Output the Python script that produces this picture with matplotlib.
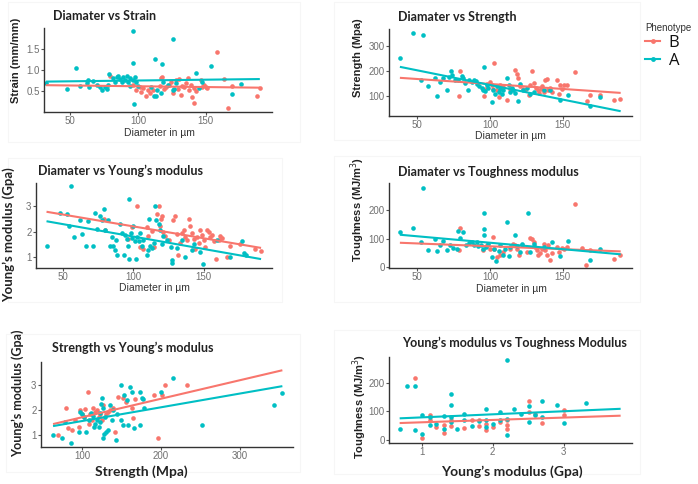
import numpy as np
import matplotlib
matplotlib.use("Agg")
import matplotlib.pyplot as plt
from matplotlib.lines import Line2D
from matplotlib.patches import Rectangle

# ---------------- data ----------------
phenotypes = ["B", "A"]

# Panel 1: Diameter vs Strain
p1_B_x = [79.3, 96.3, 98.8, 101.2, 102.4, 103.7, 106.1, 107.3, 108.5, 110.9, 115.9, 116.6, 117.8, 119.5, 120.7,
          123.2, 124.4, 125.6, 128, 129.3, 130.5, 131.7, 132.4, 134.1, 135.4, 136.6, 137.8, 139, 140.2, 141,
          141.5, 142.7, 146.3, 147.6, 148.8, 150, 151.2, 158.5, 163.4, 166.6, 169.5, 187.8, 190]
p1_B_y = [0.87, 0.64, 0.52, 0.60, 0.48, 0.57, 0.40, 0.52, 0.47, 0.54, 0.62, 0.81, 0.85, 0.55, 0.60,
          0.66, 0.73, 0.46, 0.77, 0.55, 0.79, 0.42, 0.63, 0.60, 0.70, 0.81, 0.54, 0.66, 0.36, 0.23,
          0.58, 0.50, 0.77, 0.60, 0.66, 0.60, 0.58, 1.44, 0.79, 0.10, 0.63, 0.38, 0.57]
p1_A_x = [32, 47.6, 54.4, 56.8, 62.2, 62.7, 63.4, 67, 69.5, 71.9, 73.2, 75.6, 77.3, 78, 78.8, 81.7, 82.9,
          84.1, 85.4, 86.6, 87.8, 89, 90.2, 91.5, 92.7, 93.9, 94.4, 96.3, 96.3, 96.3, 97.6, 98.8, 97,
          100, 109.8, 111.5, 112.2, 113.4, 113.9, 117.1, 117.6, 118.3, 122, 125.6, 125.6, 126.8, 128,
          142.7, 145.1, 147.6, 153.7, 169.5, 176.1]
p1_A_y = [0.70, 0.55, 1.05, 0.63, 0.70, 0.77, 0.60, 0.74, 0.66, 0.60, 0.52, 0.60, 0.55, 0.66, 0.91, 0.81, 0.73,
          0.85, 0.87, 0.79, 0.71, 0.84, 0.77, 0.87, 0.73, 0.62, 0.81, 0.77, 1.92, 1.18, 0.84, 0.73, 0.21,
          0.62, 0.60, 0.40, 1.26, 0.38, 0.54, 0.46, 1.14, 0.71, 0.66, 1.75, 0.54, 0.55, 0.70,
          0.93, 0.58, 0.71, 1.10, 0.44, 0.68]

# Panel 2: Diameter vs Strength
p2_B_x = [79.4, 78.7, 96, 96.7, 97.8, 100.1, 101.3, 102.4, 103.1, 104.7, 105.9, 107, 109.3, 111.6, 114,
          117.4, 118.5, 119.2, 120.8, 122.6, 124.3, 126.6, 127.7, 128.9, 130.5, 131.9, 132.8, 134.1, 135,
          135.7, 136.9, 138, 139.2, 140.3, 141.5, 142.6, 146.1, 147.2, 148.4, 149.5, 150.7, 153, 158.7,
          166.8, 169.1, 176, 185.2, 189.8]
p2_B_y = [201, 99, 100, 130, 150, 156, 143, 130, 233, 123, 96, 143, 136, 83, 130,
          203, 190, 174, 139, 130, 123, 103, 143, 201, 152, 134, 123, 112, 130,
          139, 116, 163, 170, 125, 134, 116, 163, 109, 143, 130, 143, 143, 197,
          79, 103, 103, 83, 87]
p2_A_x = [38, 47.2, 54.1, 52.3, 57.1, 62.2, 63.3, 65.6, 67.9, 70.2, 72, 72.9, 73.7, 76, 78.3, 80.6, 81.7,
          82.9, 85.2, 85.9, 87.5, 89.1, 90.5, 91.4, 92.5, 94.4, 95.5, 96.2, 96.7, 97.8, 99, 101.3, 102.4,
          103.6, 104.7, 105.9, 107, 108.2, 109.3, 111.6, 112.8, 114, 115.1, 116.2, 117.4, 119.2, 120.8,
          123.1, 125.4, 127.7, 130, 136.9, 141.5, 148.4, 153.4, 169.1, 176]
p2_A_y = [253, 354, 344, 163, 140, 174, 99, 156, 174, 123, 177, 201, 183, 163, 166, 179, 174,
          152, 125, 163, 156, 166, 160, 150, 139, 134, 125, 217, 120, 143, 134, 76, 125,
          109, 139, 116, 130, 109, 123, 174, 143, 116, 134, 125, 112, 79, 150,
          123, 134, 107, 116, 123, 125, 85, 103, 62, 96]

# Panel 3: Diameter vs Young's modulus
p3_B_x = [79, 79.8, 96.4, 98.8, 102.4, 104.8, 106.7, 109.5, 110.7, 113.1, 114.8, 116.7, 117.9, 118.6, 119.5,
          120.2, 120.9, 122.6, 125, 128.1, 129.8, 131, 132.1, 133.3, 134.5, 135.7, 136.9, 138.1, 139.3, 140,
          141.7, 142.9, 144, 145.2, 146.4, 147.6, 148.8, 150, 151.2, 152.4, 153.6, 154.3, 155.9, 157.1, 159,
          160.7, 161.9, 163.1, 166.7, 169, 176.2, 186.9, 190.9]
p3_B_y = [2.50, 2.05, 1.71, 2.18, 3.0, 1.39, 1.32, 2.18, 1.82, 2.01, 1.39, 2.71, 3.0, 2.24, 2.50,
          2.61, 1.97, 1.82, 1.66, 2.47, 2.61, 1.92, 1.09, 1.55, 1.95, 2.08, 1.79, 1.68, 2.50, 2.21,
          1.95, 1.71, 1.32, 1.79, 1.55, 2.08, 1.88, 1.68, 1.39, 2.08, 1.97, 1.79, 1.88, 1.62, 0.92,
          1.68, 1.82, 1.75, 1.0, 1.42, 1.49, 1.32, 1.22]
p3_A_x = [38.1, 47.6, 52.4, 54.3, 55.2, 57.6, 61.9, 63.1, 66.2, 67.9, 71, 72.6, 73.8, 76.2, 77.4, 79, 79.8,
          82.1, 83.3, 84.5, 85.7, 86.9, 87.6, 88.6, 90.5, 91.7, 92.9, 94, 95.2, 96.4, 97.1, 97.1, 98.1,
          98.8, 100, 101.2, 101.9, 102.4, 103.6, 104.8, 106, 107.1, 109.5, 110.7, 111.4, 111.9, 113.1,
          114.3, 115.5, 116.2, 117.9, 119, 120.2, 121.4, 123.8, 126.7, 127.4, 127.4, 131, 134.5, 136.9,
          141.7, 142.9, 147.6, 149.5, 159.5, 169, 177.4, 178.6, 180.5]
p3_A_y = [1.42, 2.74, 2.71, 2.21, 3.79, 1.79, 2.47, 1.92, 1.42, 2.41, 1.42, 2.74, 2.12, 2.61, 2.47, 2.89, 2.08,
          2.47, 1.42, 1.79, 1.42, 1.29, 1.68, 1.09, 2.28, 1.95, 1.09, 1.88, 1.71, 1.42, 3.29, 0.92, 1.95,
          1.75, 2.21, 1.62, 0.92, 1.79, 1.62, 1.95, 1.42, 1.68, 1.09, 1.29, 2.50, 1.42, 1.36,
          1.55, 3.0, 2.47, 2.28, 2.08, 1.49, 1.82, 1.66, 1.39, 0.89, 0.76, 1.36, 1.68, 1.0,
          1.29, 1.49, 1.18, 0.70, 1.68, 1.0, 1.62, 1.16, 1.09]

# Panel 4: Diameter vs Toughness
p4_B_x = [79.4, 78.7, 95.5, 97.8, 100.1, 102.4, 103.1, 104.7, 107, 109.3, 114, 116.2, 117.4, 118.5, 119.7,
          121.9, 125.4, 127.7, 128.9, 130, 131.2, 132.3, 133.4, 134.6, 135.7, 136.9, 138, 139.2, 140.3,
          141.5, 142.6, 146.1, 147.2, 149.5, 150.7, 153, 158.7, 163.3, 166.3, 169.1, 185.2, 189.8]
p4_B_y = [137, 58, 58, 76, 64, 105, 62, 35, 43, 52, 64, 81, 76, 64, 43,
          76, 52, 101, 97, 87, 70, 58, 43, 50, 64, 81, 58, 41, 76,
          26, 50, 70, 52, 66, 64, 70, 221, 66, 8, 58, 29, 41]
p4_A_x = [38, 47.2, 54.1, 52.3, 57.1, 62.2, 63.3, 65.6, 67.9, 70.2, 72.5, 74.4, 77.1, 78.3, 79.4, 81.7, 83.6,
          85.9, 87.5, 89.1, 90.9, 92.1, 93.7, 95.1, 96, 96, 96.2, 97.4, 99, 101.3, 102.9, 104.3, 105.9,
          107, 109.3, 110.5, 111.6, 112.8, 114, 117.4, 118.5, 120.8, 121.9, 125.9, 127.7, 130, 136.9,
          142.6, 148.4, 153.4, 169.1, 176]
p4_A_y = [124, 137, 279, 87, 60, 97, 55, 76, 93, 58, 78, 66, 64, 128, 101, 122, 76,
          85, 87, 76, 87, 73, 78, 64, 113, 134, 190, 70, 81, 35, 64, 20, 55,
          76, 41, 62, 159, 38, 70, 113, 73, 52, 81, 190, 52, 81, 70,
          87, 38, 90, 23, 62]

# Panel 5: Strength vs Young's modulus
p5_B_x = [68.8, 79.7, 81.4, 86.9, 91.1, 95.4, 97.5, 99.6, 101.7, 103.8, 106.8, 108, 110.1, 112.2, 114.3,
          116.5, 118.6, 120.7, 122.8, 124.9, 127, 130.4, 133.3, 135.4, 138.8, 141.8, 146, 151.5, 155.7,
          162.9, 165, 167.1, 191.1, 195.8, 200.8, 205, 232.5]
p5_B_y = [1.0, 2.11, 1.31, 1.2, 1.6, 1.33, 2.0, 1.87, 1.73, 2.07, 2.73, 1.47, 1.87, 1.6, 2.11,
          1.93, 2.0, 1.73, 1.84, 1.6, 2.2, 1.84, 1.93, 2.03, 2.11, 1.13, 2.53, 2.51, 2.33,
          2.11, 1.71, 2.47, 2.6, 0.91, 2.6, 3.0, 3.0]
p5_A_x = [62.9, 74.3, 78.5, 85.7, 95.4, 97.5, 99.6, 101.7, 105.1, 108, 110.9, 113.5, 115.2, 116.5, 118.6,
          120.7, 122, 122.8, 123.6, 124.9, 126.2, 127, 127.8, 129.1, 130.4, 132.1, 135.4, 137.6, 139.7,
          143, 144.7, 148.9, 148.9, 152.3, 153.6, 156.5, 158.6, 160.8, 162.9, 165.8, 173.4, 175.5, 177.6,
          178.5, 173.4, 200.4, 215.6, 251.9, 343, 353.6]
p5_A_y = [1.0, 0.91, 1.53, 0.69, 1.13, 1.93, 1.87, 1.73, 1.13, 1.6, 1.89, 1.76, 1.33, 1.47, 1.6,
          1.33, 1.53, 1.89, 2.27, 2.51, 2.11, 0.91, 1.04, 1.73, 1.13, 1.2, 2.2, 1.63, 2.0,
          0.8, 1.87, 3.0, 1.63, 1.4, 2.6, 2.4, 1.4, 2.93, 2.73, 1.31, 2.73, 2.51, 2.47,
          2.11, 1.4, 2.73, 3.31, 1.4, 2.2, 2.69]

# Panel 6: Young's modulus vs Toughness
p6_B_x = [0.91, 1.0, 1.11, 1.11, 1.20, 1.31, 1.31, 1.41, 1.41, 1.60, 1.71, 1.80, 1.80, 1.90, 1.90,
          2.0, 2.10, 2.20, 2.20, 2.20, 2.51, 2.51, 2.60, 2.70, 3.0, 3.0]
p6_B_y = [219, 6, 86, 68, 45, 24, 51, 71, 47, 42, 68, 47, 71, 33, 56,
          45, 62, 39, 51, 68, 136, 98, 92, 59, 106, 88]
p6_A_x = [0.69, 0.80, 0.91, 0.91, 1.0, 1.0, 1.11, 1.11, 1.20, 1.31, 1.31, 1.41, 1.41, 1.41, 1.41, 1.50,
          1.60, 1.60, 1.71, 1.80, 1.90, 1.90, 1.90, 2.0, 2.10, 2.10, 2.20, 2.20, 2.20, 2.30, 2.40, 2.51,
          2.51, 2.60, 2.70, 2.70, 2.91, 3.0, 3.31]
p6_A_y = [39, 189, 189, 33, 86, 21, 80, 51, 56, 82, 39, 160, 121, 80, 62, 39,
          89, 68, 47, 66, 109, 68, 45, 56, 98, 68, 280, 18, 74, 109, 89, 118,
          62, 86, 135, 80, 124, 59, 131]

# ---------------- style ----------------
W, H = 698, 484
COL = {"B": "#F8766D", "A": "#00BFC4"}
TITLE_FONT = ["Lato", "DejaVu Sans"]
AX_FONT = ["Liberation Sans", "DejaVu Sans"]

fig = plt.figure(figsize=(W / 100, H / 100), dpi=100)
fig.patch.set_facecolor("white")


def ftext(x, y, s, **kw):
    fig.text(x / W, 1 - y / H, s, **kw)


# faint panel backgrounds from the composed screenshot
for (l, t, r, b) in [(8, 2, 300, 142), (334, 2, 640, 140), (8, 158, 282, 302),
                     (334, 156, 640, 302), (6, 334, 300, 472), (334, 330, 640, 474)]:
    fig.patches.append(Rectangle((l / W, 1 - b / H), (r - l) / W, (b - t) / H,
                                 transform=fig.transFigure, facecolor="none",
                                 edgecolor="#f6f6f6", lw=0.8, zorder=0))

panels = [
    dict(rect=(44, 28, 272, 112), data=(p1_B_x, p1_B_y, p1_A_x, p1_A_y), xlim=(30.5, 199), ylim=(0.01, 2.0),
         xticks=[50, 100, 150], yticks=[0.5, 1.0, 1.5], yfmt="{:.1f}", fit=(32, 190)),
    dict(rect=(389, 29, 632, 116), data=(p2_B_x, p2_B_y, p2_A_x, p2_A_y), xlim=(30.5, 197.8), ylim=(20, 368),
         xticks=[50, 100, 150], yticks=[100, 200, 300], yfmt="{:.0f}", fit=(38, 190)),
    dict(rect=(36, 183, 272, 268), data=(p3_B_x, p3_B_y, p3_A_x, p3_A_y), xlim=(30.5, 198.8), ylim=(0.56, 3.92),
         xticks=[50, 100, 150], yticks=[1, 2, 3], yfmt="{:.0f}", fit=(38, 191)),
    dict(rect=(389, 183, 632, 268), data=(p4_B_x, p4_B_y, p4_A_x, p4_A_y), xlim=(30.5, 197.8), ylim=(-4, 296),
         xticks=[50, 100, 150], yticks=[0, 100, 200], yfmt="{:.0f}", fit=(38, 190)),
    dict(rect=(41, 362, 293, 447), data=(p5_B_x, p5_B_y, p5_A_x, p5_A_y), xlim=(47.7, 367.5), ylim=(0.53, 3.93),
         xticks=[100, 200, 300], yticks=[1, 2, 3], yfmt="{:.0f}", fit=(63, 354)),
    dict(rect=(389, 357, 632, 443), data=(p6_B_x, p6_B_y, p6_A_x, p6_A_y), xlim=(0.54, 3.96), ylim=(-12, 292),
         xticks=[1, 2, 3], yticks=[0, 100, 200], yfmt="{:.0f}", fit=(0.69, 3.8)),
]

for p in panels:
    l, t, r, b = p["rect"]
    ax = fig.add_axes([l / W, 1 - b / H, (r - l) / W, (b - t) / H])
    bx, by, axx, ayy = p["data"]
    ax.scatter(bx, by, s=11, color=COL["B"], linewidths=0, zorder=2)
    ax.scatter(axx, ayy, s=11, color=COL["A"], linewidths=0, zorder=2)
    xs = np.array(p["fit"], dtype=float)
    for key, gx, gy in (("B", bx, by), ("A", axx, ayy)):
        k, c = np.polyfit(gx, gy, 1)
        ax.plot(xs, k * xs + c, color=COL[key], lw=1.5, zorder=3, solid_capstyle="butt")
    ax.set_xlim(*p["xlim"])
    ax.set_ylim(*p["ylim"])
    ax.set_xticks(p["xticks"])
    ax.set_yticks(p["yticks"])
    ax.set_yticklabels([p["yfmt"].format(v) for v in p["yticks"]])
    for s in ("top", "right"):
        ax.spines[s].set_visible(False)
    for s in ("left", "bottom"):
        ax.spines[s].set_color("#333333")
        ax.spines[s].set_linewidth(1.0)
    ax.tick_params(length=2, width=0.8, color="#555555", labelsize=7, labelcolor="#707070", pad=1.2)
    for lab in ax.get_xticklabels() + ax.get_yticklabels():
        lab.set_family(AX_FONT)
    ax.set_facecolor("none")

# titles
tkw = dict(family=TITLE_FONT, weight="bold", fontsize=9, color="#222222", va="center", ha="left")
ftext(53, 16, "Diamater vs Strain", **tkw)
ftext(398, 17, "Diamater vs Strength", **tkw)
ftext(38, 171, "Diamater vs Young\u2019s modulus", **tkw)
ftext(398, 172, "Diamater vs Toughness modulus", **tkw)
ftext(52, 348, "Strength vs Young\u2019s modulus", **tkw)
ftext(402, 343, "Young\u2019s modulus vs Toughness Modulus", **tkw)

# y axis titles (ggplot style)
ykw = dict(family=AX_FONT, weight="bold", fontsize=8, color="#222222", rotation=90, va="center", ha="center")
ftext(16, 60, "Strain (mm/mm)", **ykw)
ftext(358, 58, "Strength (Mpa)", **ykw)
ftext(358, 209, "Toughness (MJ/m$^3$)", **ykw)
ftext(360, 406, "Toughness (MJ/m$^3$)", **ykw)

# added large labels
bkw = dict(family=TITLE_FONT, weight="bold", color="#222222", va="center", ha="center")
ftext(9, 235, "Young\u2019s modulus (Gpa)", rotation=90, fontsize=9.5, **bkw)
ftext(18, 393, "Young\u2019s modulus (Gpa)", rotation=90, fontsize=9, **bkw)
ftext(141, 472, "Strength (Mpa)", fontsize=10, **bkw)
ftext(512, 472, "Young\u2019s modulus (Gpa)", fontsize=10, **bkw)

# x axis titles
xkw = dict(family=AX_FONT, fontsize=7.5, color="#333333", va="center", ha="center")
ftext(159, 133, "Diameter in \u00b5m", **xkw)
ftext(510, 136, "Diameter in \u00b5m", **xkw)
ftext(154, 288, "Diameter in \u00b5m", **xkw)
ftext(511, 289, "Diameter in \u00b5m", **xkw)

# legend
handles = [Line2D([], [], color=COL[k], lw=1.5, marker="o", markersize=3.5, markeredgewidth=0) for k in phenotypes]
leg = fig.legend(handles, phenotypes, loc="upper left", bbox_to_anchor=(642 / W, 1 - 20 / H),
                 frameon=False, title="Phenotype", fontsize=12, handlelength=0.9, handletextpad=0.5,
                 labelspacing=0.1, borderaxespad=0, borderpad=0.2)
leg.get_title().set_fontsize(7)
leg.get_title().set_color("#333333")
leg.get_title().set_family(AX_FONT)
leg._legend_box.align = "left"
for txt in leg.get_texts():
    txt.set_family(["Open Sans", "DejaVu Sans"])
    txt.set_color("#111111")

fig.savefig("out.png", dpi=100, facecolor="white")
